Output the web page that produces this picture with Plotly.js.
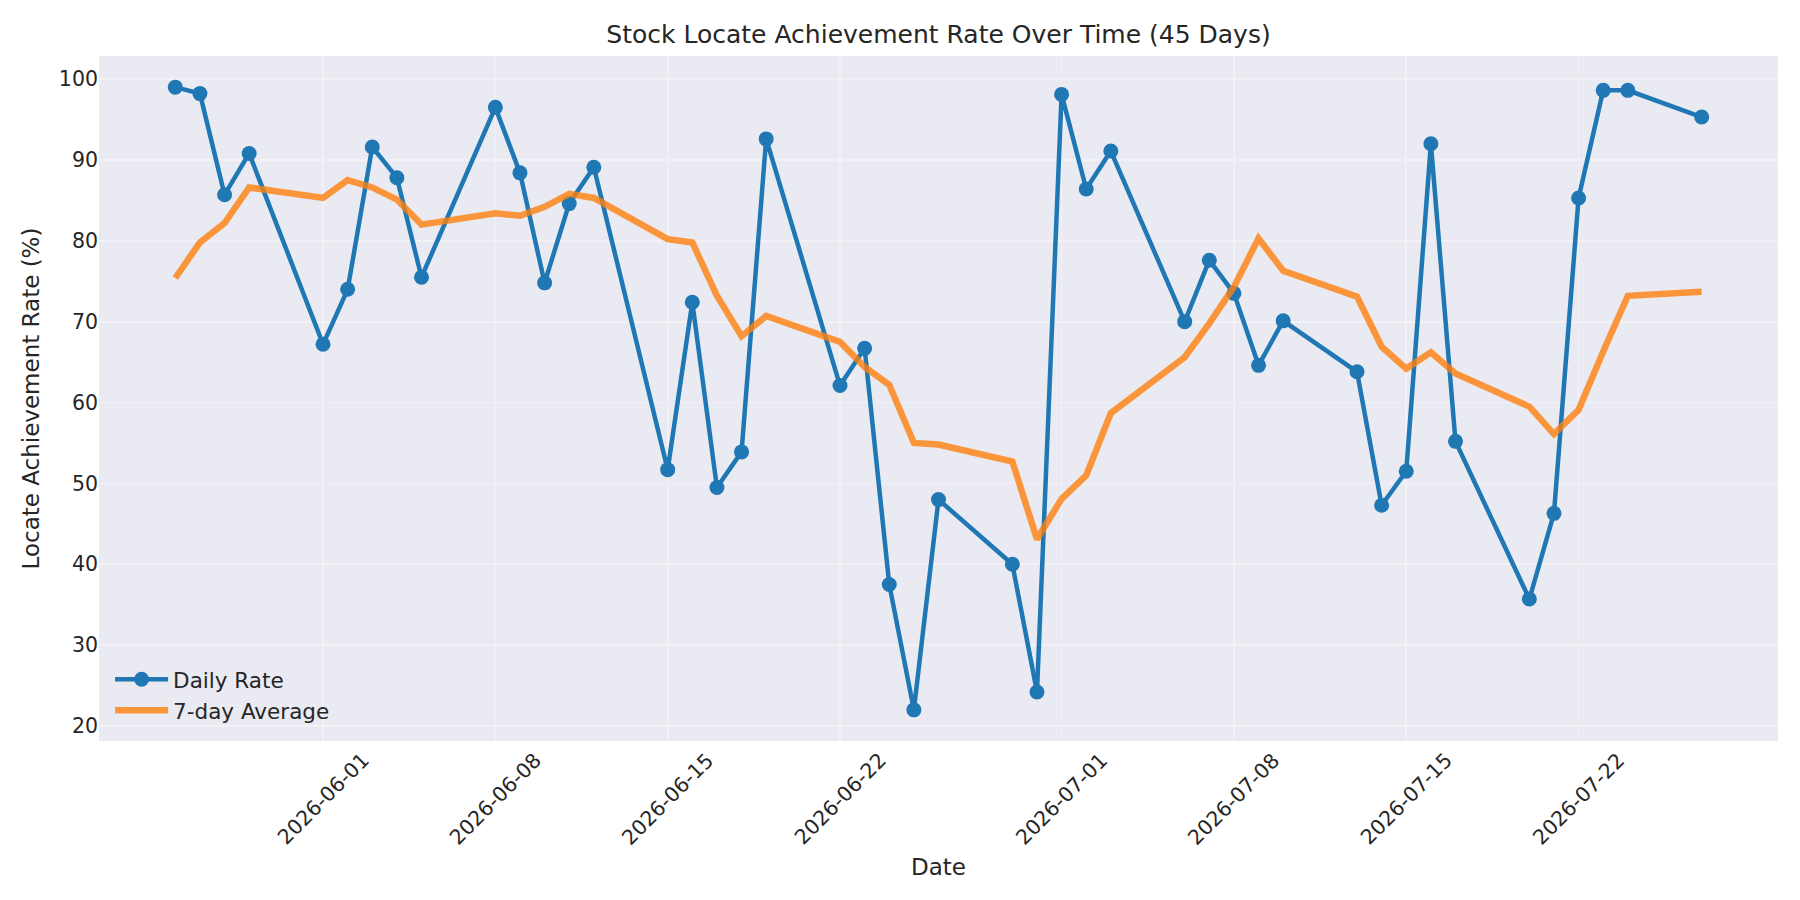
<!DOCTYPE html>
<html>
<head>
<meta charset="utf-8">
<script src="https://cdn.plot.ly/plotly-3.0.1.min.js"></script>
<style>
  html, body { margin: 0; padding: 0; background: #fff; }
  #chart { width: 1800px; height: 900px; }
</style>
</head>
<body>
<div id="chart"></div>
<script>
// business days shown on the chart
var dates = [
    '2026-05-26', '2026-05-27', '2026-05-28', '2026-05-29',
    '2026-06-01', '2026-06-02', '2026-06-03', '2026-06-04', '2026-06-05',
    '2026-06-08', '2026-06-09', '2026-06-10', '2026-06-11', '2026-06-12',
    '2026-06-15', '2026-06-16', '2026-06-17', '2026-06-18', '2026-06-19',
    '2026-06-22', '2026-06-23', '2026-06-24', '2026-06-25', '2026-06-26',
    '2026-06-29', '2026-06-30', '2026-07-01', '2026-07-02', '2026-07-03',
    '2026-07-06', '2026-07-07', '2026-07-08', '2026-07-09', '2026-07-10',
    '2026-07-13', '2026-07-14', '2026-07-15', '2026-07-16', '2026-07-17',
    '2026-07-20', '2026-07-21', '2026-07-22', '2026-07-23', '2026-07-24',
    '2026-07-27'
];

var dailyRate = [
    99.0, 98.2, 85.7, 90.8,
    67.2, 74.0, 91.6, 87.8, 75.5,
    96.5, 88.4, 74.8, 84.6, 89.1,
    51.7, 72.4, 49.5, 53.9, 92.6,
    62.1, 66.7, 37.5, 22.0, 48.0,
    40.0, 24.2, 98.1, 86.4, 91.1,
    70.0, 77.6, 73.5, 64.6, 70.1,
    63.8, 47.3, 51.5, 92.0, 55.2,
    35.7, 46.3, 85.3, 98.6, 98.6,
    95.3
];

var avg7 = [
    75.4, 79.8, 82.2, 86.6,
    85.3, 87.5, 86.6, 85.1, 82.0,
    83.4, 83.1, 84.2, 85.8, 85.3,
    80.2, 79.8, 73.2, 68.2, 70.7,
    67.5, 64.4, 62.2, 55.0, 54.8,
    52.7, 43.1, 48.1, 51.0, 58.7,
    65.6, 69.8, 74.3, 80.3, 76.3,
    73.1, 66.9, 64.2, 66.2, 63.6,
    59.5, 56.1, 59.1, 66.3, 73.2,
    73.7
];

var tickDates = ['2026-06-01', '2026-06-08', '2026-06-15', '2026-06-22',
                 '2026-07-01', '2026-07-08', '2026-07-15', '2026-07-22'];
var yTicks = [20, 30, 40, 50, 60, 70, 80, 90, 100];

var textColor = '#262626';
var fontFam = 'DejaVu Sans, sans-serif';

var trace_1 = {
    x: dates,
    y: dailyRate,
    type: 'scatter',
    mode: 'lines+markers',
    name: 'Daily Rate',
    line: { color: '#1f77b4', width: 4.5 },
    marker: { color: '#1f77b4', size: 15 }
};

var trace_2 = {
    x: dates,
    y: avg7,
    type: 'scatter',
    mode: 'lines',
    name: '7-day Average',
    opacity: 0.8,
    line: { color: '#ff7f0e', width: 6.5 }
};

// rotated date labels, centred on their tick like matplotlib does
var tickLabels = tickDates.map(function (d) {
    return {
        x: d, y: 0, xref: 'x', yref: 'paper',
        yshift: -58,
        text: d,
        textangle: -45,
        showarrow: false,
        xanchor: 'center', yanchor: 'middle',
        font: { family: fontFam, size: 20.5, color: textColor }
    };
});

var layout = {
    width: 1800,
    height: 900,
    paper_bgcolor: '#ffffff',
    plot_bgcolor: '#eaeaf2',
    margin: { l: 99, r: 22, t: 56, b: 159 },
    font: { family: fontFam, color: textColor, size: 20.5 },
    title: {
        text: 'Stock Locate Achievement Rate Over Time (45 Days)',
        font: { size: 25, color: textColor },
        x: 0.5, xref: 'paper', xanchor: 'center',
        y: 1 - 34 / 900, yref: 'container', yanchor: 'middle'
    },
    xaxis: {
        type: 'date',
        range: ['2026-05-22 21:36', '2026-07-30 02:24'],
        tickvals: tickDates,
        showticklabels: false,
        ticks: '',
        showgrid: true,
        gridcolor: '#f1f1f6',
        gridwidth: 1.7,
        zeroline: false,
        showline: false,
        title: { text: 'Date', font: { size: 23, color: textColor }, standoff: 117 }
    },
    yaxis: {
        range: [18.15, 102.85],
        tickvals: yTicks,
        ticks: '',
        showgrid: true,
        gridcolor: '#f1f1f6',
        gridwidth: 1.7,
        zeroline: false,
        showline: false,
        tickfont: { size: 20.5 },
        title: { text: 'Locate Achievement Rate (%)', font: { size: 23, color: textColor }, standoff: 12 }
    },
    showlegend: true,
    legend: {
        x: 0.0066, y: 0.12, xanchor: 'left', yanchor: 'top',
        bgcolor: 'rgba(0,0,0,0)',
        font: { size: 21.5, color: textColor },
        itemwidth: 53,
        tracegroupgap: 0
    },
    annotations: tickLabels
};

Plotly.newPlot('chart', [trace_1, trace_2], layout, { staticPlot: true });
</script>
</body>
</html>
